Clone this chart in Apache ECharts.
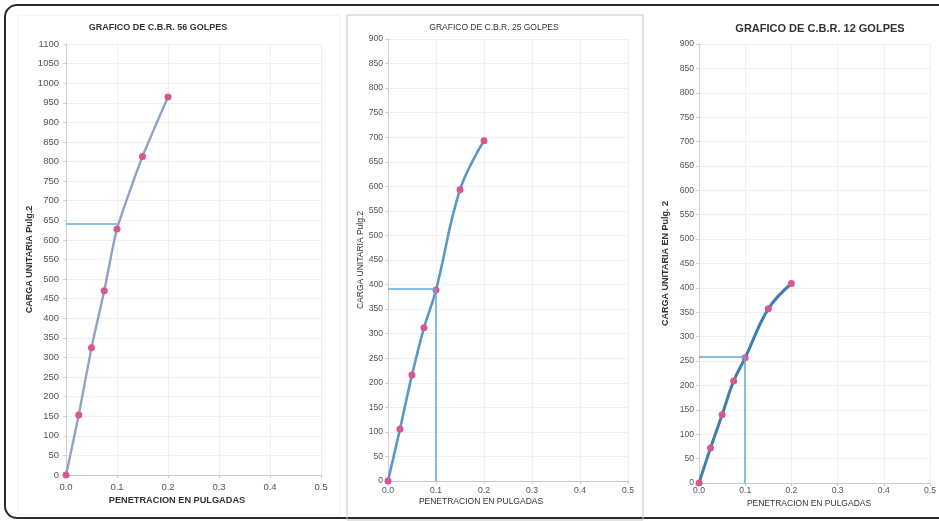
<!DOCTYPE html>
<html>
<head>
<meta charset="utf-8">
<script src="https://cdn.jsdelivr.net/npm/echarts@6/dist/echarts.min.js"></script>
<style>
html,body{margin:0;padding:0;background:#fff;}
#c{width:939px;height:521px;}
</style>
</head>
<body>
<div id="c"></div>
<script>
// ---- data ----
const penetracion = [0, 0.025, 0.05, 0.075, 0.1, 0.15, 0.2];
const carga56 = [0, 153, 325, 470, 628, 813, 965];
const carga25 = [0, 106, 216, 312, 389, 593, 693];
const carga12 = [0, 72, 140, 209, 257, 357, 409];
const refPen = 0.1;
const ref56 = 640;
const ref25 = 391;
const ref12 = 258;
const titles = ['GRAFICO DE C.B.R. 56 GOLPES', 'GRAFICO DE C.B.R. 25 GOLPES', 'GRAFICO DE C.B.R. 12 GOLPES'];
const yNames = ['CARGA UNITARIA Pulg.2', 'CARGA UNITARIA Pulg.2', 'CARGA UNITARIA EN Pulg. 2'];
const xName = 'PENETRACION EN PULGADAS';
const yMax = [1100, 900, 900];

const FONT = '"Liberation Sans", Arial, sans-serif';
const chart = echarts.init(document.getElementById('c'), null, {renderer: 'canvas'});

const grids = [
  {left: 66, top: 44, width: 255, height: 431},
  {left: 388, top: 39, width: 240, height: 442},
  {left: 699, top: 44, width: 232, height: 439}
];
const labelSize = [9.5, 8.6, 8.6];
const yLabelMargin = [7, 5, 5];
const xLabelMargin = [7, 5, 3];
const yNameGap = [32, 23, 29];
const lineColors = ['#8fa3c8', '#5a98c6', '#3f7fb0'];
const lineWidths = [2.4, 2.6, 3];
const smoothness = [0.2, 0.4, 0.4];

function pairs(ys) { return penetracion.map((x, i) => [x, ys[i]]); }

const xAxes = grids.map((g, i) => ({
  type: 'value', gridIndex: i, min: 0, max: 0.5, interval: 0.1,
  axisLine: {show: true, lineStyle: {color: '#c9c9c9'}},
  axisTick: {show: true, length: 3, lineStyle: {color: '#c9c9c9'}},
  axisLabel: {color: '#555', fontSize: labelSize[i], fontFamily: FONT, margin: xLabelMargin[i],
    formatter: v => v.toFixed(1)},
  splitLine: {show: true, lineStyle: {color: '#efefef', width: 1}}
}));
const yAxes = grids.map((g, i) => ({
  type: 'value', gridIndex: i, min: 0, max: yMax[i], interval: 50,
  name: yNames[i], nameLocation: 'middle', nameGap: yNameGap[i],
  nameTextStyle: {color: '#333', fontSize: i === 1 ? 8.5 : 9, fontWeight: i === 1 ? 'normal' : 'bold', fontFamily: FONT},
  axisLine: {show: true, lineStyle: {color: '#d0d0d0'}},
  axisTick: {show: true, length: 3, lineStyle: {color: '#d0d0d0'}},
  axisLabel: {color: '#555', fontSize: labelSize[i], fontFamily: FONT, margin: yLabelMargin[i],
    formatter: v => String(v)},
  splitLine: {show: true, lineStyle: {color: '#efefef', width: 1}}
}));

const datasets = [carga56, carga25, carga12];
const refs = [ref56, ref25, ref12];
const series = datasets.map((d, i) => ({
  type: 'line', xAxisIndex: i, yAxisIndex: i, data: pairs(d),
  smooth: smoothness[i],
  symbol: 'circle', symbolSize: 7,
  lineStyle: {color: lineColors[i], width: lineWidths[i]},
  itemStyle: {color: '#d9578f'},
  z: 3,
  markLine: {
    silent: true, symbol: 'none', label: {show: false},
    emphasis: {disabled: true},
    lineStyle: {color: '#5fa8e0', width: 1.5, type: 'solid'},
    data: (i === 0 ? [
      [{coord: [0, refs[i]]}, {coord: [refPen, refs[i]]}]
    ] : [
      [{coord: [0, refs[i]]}, {coord: [refPen, refs[i]]}],
      [{coord: [refPen, 0]}, {coord: [refPen, refs[i]]}]
    ]).map(p => [Object.assign({lineStyle: {color: '#5fa8e0', width: 1.5, type: 'solid'}}, p[0]), p[1]])
  }
}));

const titleCfg = [
  {x: 153, y: 24, size: 9, weight: 'bold'},
  {x: 489, y: 23, size: 8.5, weight: 'normal'},
  {x: 815, y: 25, size: 11, weight: 'bold'}
];
const xNameCfg = [
  {x: 177, y: 500, size: 9.2, weight: 'bold'},
  {x: 481, y: 502, size: 8.5, weight: 'normal'},
  {x: 809, y: 504, size: 8.5, weight: 'normal'}
];

const graphic = [
  {type: 'rect', shape: {x: 5, y: 5, width: 1000, height: 513, r: 12}, style: {fill: 'none', stroke: '#2b2b2b', lineWidth: 2}, silent: true, z: 0},
  {type: 'rect', shape: {x: 18, y: 15, width: 322, height: 500}, style: {fill: 'none', stroke: '#efefef', lineWidth: 1}, silent: true, z: 0},
  {type: 'rect', shape: {x: 347, y: 15, width: 296, height: 505}, style: {fill: 'none', stroke: '#c4c4c4', lineWidth: 1}, silent: true, z: 0}
];
xNameCfg.forEach(c => graphic.push({
  type: 'text', x: c.x, y: c.y, silent: true,
  style: {text: xName, fill: '#333', font: c.weight + ' ' + c.size + 'px ' + FONT, textAlign: 'center', textVerticalAlign: 'middle'}
}));

chart.setOption({
  animation: false,
  backgroundColor: '#fff',
  title: titleCfg.map((c, i) => ({
    text: titles[i], left: c.x, top: c.y - c.size / 2 - 1, textAlign: 'center',
    textStyle: {fontSize: c.size, fontWeight: c.weight, color: '#333', fontFamily: FONT}
  })),
  grid: grids,
  xAxis: xAxes,
  yAxis: yAxes,
  series: series,
  graphic: graphic
});
</script>
</body>
</html>
